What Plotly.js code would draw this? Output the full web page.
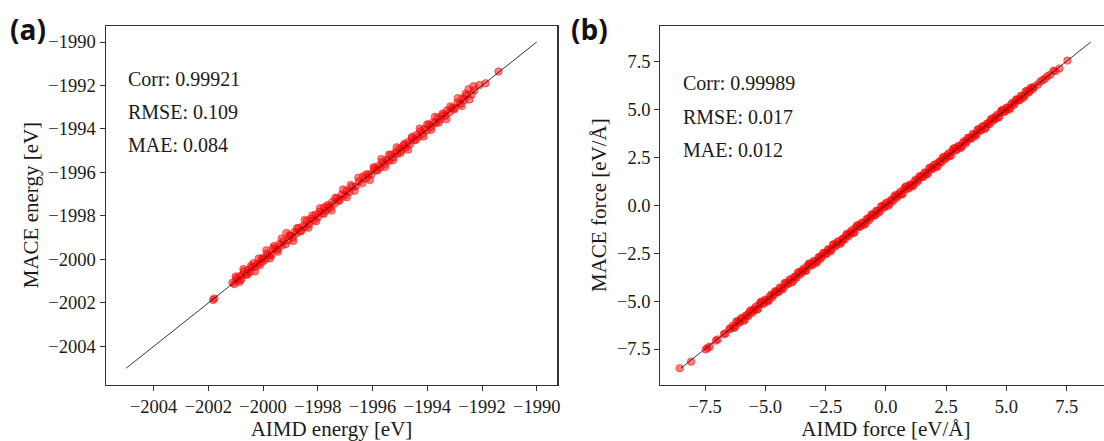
<!DOCTYPE html>
<html>
<head>
<meta charset="utf-8">
<script src="https://cdn.plot.ly/plotly-3.0.1.min.js"></script>
<style>
html,body{margin:0;padding:0;background:#fff;overflow:hidden;width:1104px;height:441px;}
#chart{width:1112px;height:441px;}
</style>
</head>
<body>
<div id="chart"></div>
<script>
// ---- Panel (a): energies [eV] ----
const aimdEnergy = [-2001.83,-2001.78,-2001.12,-2001.05,-2000.98,-2000.93,-2000.86,-2000.80,-2000.74,-2000.70,-2000.62,-2000.55,-2000.48,-2000.41,-2000.35,-2000.28,-2000.20,-2000.12,-2000.05,-1999.98,-1999.92,-1999.85,-1999.78,-1999.70,-1999.63,-1999.55,-1999.47,-1999.40,-1999.32,-1999.25,-1999.15,-1999.08,-1999.00,-1998.92,-1998.85,-1998.77,-1998.70,-1998.62,-1998.55,-1998.47,-1998.40,-1998.32,-1998.25,-1998.16,-1998.08,-1998.00,-1997.92,-1997.84,-1997.77,-1997.70,-1997.62,-1997.55,-1997.47,-1997.38,-1997.30,-1997.22,-1997.12,-1997.02,-1996.95,-1996.85,-1996.75,-1996.62,-1996.50,-1996.35,-1996.25,-1996.15,-1996.05,-1995.95,-1995.88,-1995.80,-1995.72,-1995.64,-1995.56,-1995.48,-1995.40,-1995.33,-1995.25,-1995.17,-1995.10,-1995.02,-1994.95,-1994.87,-1994.80,-1994.72,-1994.64,-1994.56,-1994.48,-1994.40,-1994.32,-1994.25,-1994.18,-1994.10,-1994.02,-1993.94,-1993.86,-1993.78,-1993.70,-1993.62,-1993.54,-1993.45,-1993.36,-1993.28,-1993.20,-1993.10,-1993.00,-1992.90,-1992.80,-1992.72,-1992.65,-1992.57,-1992.49,-1992.38,-1992.28,-1992.10,-1991.87,-1991.40,
-2001.00,-2000.86,-2000.72,-2000.58,-2000.44,-2000.30,-2000.16,-2000.02,-1999.88,-1999.74,-1999.60,-1999.46,-1999.32,-1999.18,-1999.04,-1998.90,-1998.76,-1998.62,-1998.48,-1998.34,-1998.20,-1998.06,-1997.92,-1997.78,-1997.64,-1997.50,-1997.36,-1997.22,-1997.08,-1996.94,-1996.80,-1996.66,-1996.52,-1996.38,-1996.24,-1996.10,-1995.96,-1995.82,-1995.68,-1995.54,-1995.40,-1995.26,-1995.12,-1994.98,-1994.84,-1994.70,-1994.56,-1994.42,-1994.28,-1994.14,-1994.00,-1993.86,-1993.72,-1993.58,-1993.44,-1993.30,-1993.16,-1993.02,-1992.88,-1992.74,-1992.60,-1992.46,-1992.32];
const maceEnergy = [-2001.86,-2001.80,-2001.07,-2001.13,-2000.86,-2000.96,-2000.77,-2000.92,-2000.72,-2000.55,-2000.68,-2000.48,-2000.58,-2000.37,-2000.17,-2000.33,-2000.19,-2000.26,-1999.95,-1999.92,-2000.01,-1999.72,-1999.80,-1999.81,-1999.47,-1999.52,-1999.54,-1999.29,-1999.36,-1999.16,-1998.78,-1999.13,-1998.91,-1999.00,-1998.74,-1998.80,-1998.55,-1998.69,-1998.47,-1998.52,-1998.22,-1998.38,-1998.13,-1998.21,-1997.93,-1998.06,-1997.80,-1997.88,-1997.60,-1997.75,-1997.57,-1997.62,-1997.36,-1997.43,-1997.18,-1997.26,-1997.01,-1997.06,-1996.83,-1996.90,-1996.66,-1996.64,-1996.41,-1996.19,-1996.29,-1996.08,-1996.10,-1995.82,-1995.91,-1995.70,-1995.77,-1995.51,-1995.60,-1995.41,-1995.46,-1995.18,-1995.30,-1995.08,-1995.14,-1994.90,-1994.99,-1994.76,-1994.85,-1994.61,-1994.70,-1994.44,-1994.52,-1994.28,-1994.37,-1994.10,-1994.22,-1993.99,-1994.07,-1993.80,-1993.90,-1993.69,-1993.74,-1993.48,-1993.58,-1993.37,-1993.40,-1993.15,-1993.24,-1993.03,-1993.04,-1992.78,-1992.84,-1992.60,-1992.68,-1992.47,-1992.17,-1992.41,-1992.22,-1991.98,-1991.90,-1991.36,
-2000.78,-2001.04,-2000.44,-2000.70,-2000.29,-2000.55,-1999.96,-2000.10,-1999.58,-1999.94,-1999.38,-1999.64,-1999.04,-1999.30,-1998.89,-1999.15,-1998.56,-1998.70,-1998.18,-1998.54,-1997.98,-1998.24,-1997.64,-1997.90,-1997.49,-1997.75,-1997.16,-1997.30,-1996.78,-1997.14,-1996.58,-1996.84,-1996.24,-1996.50,-1996.09,-1996.35,-1995.76,-1995.90,-1995.38,-1995.74,-1995.18,-1995.44,-1994.84,-1995.10,-1994.69,-1994.95,-1994.36,-1994.50,-1993.98,-1994.34,-1993.78,-1994.04,-1993.44,-1993.70,-1993.29,-1993.55,-1992.96,-1993.10,-1992.58,-1992.94,-1992.38,-1992.64,-1992.04];
const energyDiag = [-2005, -1990];
const energyRange = [-2005.75, -1989.25];
const energyTickStart = -2004;
const energyTickStep = 2;
const energyStats = ["Corr: 0.99921", "RMSE: 0.109", "MAE: 0.084"];

// ---- Panel (b): forces [eV/Å] ----
const aimdForce = [-8.55,-8.08,-7.47,-7.40,-7.30,-7.05,-6.98,-6.72,-6.66,-6.50,-6.45,
-6.35,-6.25,-6.15,-6.05,-5.95,-5.85,-5.75,-5.65,-5.55,-5.45,-5.35,-5.25,-5.15,-5.05,-4.95,-4.85,-4.75,-4.65,-4.55,-4.45,-4.35,-4.25,-4.15,-4.05,-3.95,-3.85,-3.75,-3.65,-3.55,-3.45,-3.35,-3.25,-3.15,-3.05,-2.95,-2.85,-2.75,-2.65,-2.55,-2.45,-2.35,-2.25,-2.15,-2.05,-1.95,-1.85,-1.75,-1.65,-1.55,-1.45,-1.35,-1.25,-1.15,-1.05,-0.95,-0.85,-0.75,-0.65,-0.55,-0.45,-0.35,-0.25,-0.15,-0.05,0.05,0.15,0.25,0.35,0.45,0.55,0.65,0.75,0.85,0.95,1.05,1.15,1.25,1.35,1.45,1.55,1.65,1.75,1.85,1.95,2.05,2.15,2.25,2.35,2.45,2.55,2.65,2.75,2.85,2.95,3.05,3.15,3.25,3.35,3.45,3.55,3.65,3.75,3.85,3.95,4.05,4.15,4.25,4.35,4.45,4.55,4.65,4.75,4.85,4.95,5.05,5.15,5.25,5.35,5.45,5.55,5.65,5.75,5.85,5.95,6.05,6.15,
-6.30,-6.20,-6.10,-6.00,-5.90,-5.80,-5.70,-5.60,-5.50,-5.40,-5.30,-5.20,-5.10,-5.00,-4.90,-4.80,-4.70,-4.60,-4.50,-4.40,-4.30,-4.20,-4.10,-4.00,-3.90,-3.80,-3.70,-3.60,-3.50,-3.40,-3.30,-3.20,-3.10,-3.00,-2.90,-2.80,-2.70,-2.60,-2.50,-2.40,-2.30,-2.20,-2.10,-2.00,-1.90,-1.80,-1.70,-1.60,-1.50,-1.40,-1.30,-1.20,-1.10,-1.00,-0.90,-0.80,-0.70,-0.60,-0.50,-0.40,-0.30,-0.20,-0.10,0.00,0.10,0.20,0.30,0.40,0.50,0.60,0.70,0.80,0.90,1.00,1.10,1.20,1.30,1.40,1.50,1.60,1.70,1.80,1.90,2.00,2.10,2.20,2.30,2.40,2.50,2.60,2.70,2.80,2.90,3.00,3.10,3.20,3.30,3.40,3.50,3.60,3.70,3.80,3.90,4.00,4.10,4.20,4.30,4.40,4.50,4.60,4.70,4.80,4.90,5.00,5.10,5.20,5.30,5.40,5.50,5.60,5.70,5.80,5.90,6.00,6.10,
6.30,6.40,6.50,6.60,6.70,6.82,6.95,7.02,7.20,7.53];
const maceForce = [-8.50,-8.16,-7.52,-7.45,-7.37,-7.06,-7.00,-6.72,-6.70,-6.48,-6.42,
-6.29,-6.34,-6.04,-6.08,-5.87,-5.97,-5.73,-5.55,-5.61,-5.41,-5.45,-5.18,-5.03,-5.10,-4.94,-4.96,-4.66,-4.67,-4.50,-4.53,-4.32,-4.32,-4.05,-4.09,-3.86,-3.96,-3.72,-3.53,-3.60,-3.40,-3.44,-3.17,-3.04,-3.11,-2.93,-2.97,-2.68,-2.68,-2.49,-2.54,-2.31,-2.33,-2.03,-2.07,-1.88,-1.95,-1.74,-1.56,-1.62,-1.40,-1.46,-1.17,-1.05,-1.09,-0.92,-0.97,-0.69,-0.66,-0.48,-0.54,-0.30,-0.31,-0.04,-0.08,0.13,0.04,0.27,0.45,0.40,0.59,0.55,0.82,0.97,0.89,1.06,1.03,1.34,1.32,1.51,1.47,1.69,1.66,1.96,1.93,2.13,2.04,2.28,2.45,2.39,2.60,2.55,2.82,2.97,2.91,3.07,3.04,3.34,3.33,3.51,3.47,3.69,3.66,3.96,3.92,4.12,4.03,4.27,4.45,4.40,4.60,4.55,4.83,4.96,4.89,5.08,5.04,5.33,5.32,5.51,5.47,5.69,5.68,5.95,5.91,6.12,6.17,
-6.40,-6.07,-6.14,-5.91,-6.03,-5.75,-5.78,-5.48,-5.52,-5.30,-5.41,-5.06,-5.15,-4.92,-5.02,-4.74,-4.79,-4.49,-4.53,-4.30,-4.40,-4.07,-4.14,-3.91,-4.03,-3.75,-3.78,-3.48,-3.52,-3.30,-3.41,-3.06,-3.15,-2.92,-3.02,-2.74,-2.79,-2.49,-2.53,-2.30,-2.40,-2.07,-2.14,-1.91,-2.03,-1.75,-1.78,-1.48,-1.52,-1.30,-1.41,-1.06,-1.15,-0.92,-1.02,-0.74,-0.79,-0.49,-0.53,-0.30,-0.40,-0.07,-0.14,0.09,-0.03,0.25,0.22,0.52,0.48,0.70,0.59,0.94,0.85,1.08,0.98,1.26,1.21,1.51,1.47,1.70,1.60,1.93,1.86,2.09,1.97,2.25,2.22,2.52,2.48,2.70,2.59,2.94,2.85,3.08,2.98,3.26,3.21,3.51,3.47,3.70,3.60,3.93,3.86,4.09,3.97,4.25,4.22,4.52,4.48,4.70,4.59,4.94,4.85,5.08,4.98,5.26,5.21,5.51,5.47,5.70,5.60,5.93,5.86,6.09,6.05,
6.28,6.43,6.52,6.58,6.72,6.80,7.00,6.98,7.12,7.53];
const forceDiag = [-8.5, 8.5];
const forceRange = [-9.35, 9.35];
const forceTickStart = 0;
const forceTickStep = 2.5;
const forceStats = ["Corr: 0.99989", "RMSE: 0.017", "MAE: 0.012"];

const W = 1112, H = 441;
const SERIF = "Liberation Serif";
function serifFont(size) { return {family: SERIF, size: size, color: "#1a1a1a"}; }
function markerStyle() { return {size: 7.5, color: "rgba(255,0,0,0.5)", line: {color: "rgba(255,0,0,0.5)", width: 1}}; }

const traces = [
  {type: "scatter", mode: "markers", x: aimdEnergy, y: maceEnergy, xaxis: "x", yaxis: "y", marker: markerStyle(), hoverinfo: "x+y"},
  {type: "scatter", mode: "lines", x: energyDiag, y: energyDiag, xaxis: "x", yaxis: "y", line: {color: "#000", width: 0.8}, hoverinfo: "skip"},
  {type: "scatter", mode: "markers", x: aimdForce, y: maceForce, xaxis: "x2", yaxis: "y2", marker: markerStyle(), hoverinfo: "x+y"},
  {type: "scatter", mode: "lines", x: forceDiag, y: forceDiag, xaxis: "x2", yaxis: "y2", line: {color: "#000", width: 0.8}, hoverinfo: "skip"}
];

function px(x) { return x / W; }
function py(y) { return 1 - y / H; }

function axis(extra) {
  return Object.assign({
    showline: true, mirror: true, linecolor: "#333", linewidth: 1.2,
    ticks: "outside", ticklen: 5, tickwidth: 1, tickcolor: "#333",
    showgrid: false, zeroline: false,
    tickfont: serifFont(18.5),
    automargin: false
  }, extra);
}

const yDom = [py(384.5), py(25.7)];

const layout = {
  width: W, height: H,
  margin: {l: 0, r: 0, t: 0, b: 0},
  font: {family: SERIF, size: 18, color: "#1a1a1a"},
  paper_bgcolor: "#fff", plot_bgcolor: "#fff",
  showlegend: false,
  xaxis: axis({
    domain: [px(105.7), px(557.3)], range: energyRange, anchor: "y",
    tickmode: "linear", tick0: energyTickStart, dtick: energyTickStep,
    title: {text: "AIMD energy [eV]", font: serifFont(21), standoff: 2}
  }),
  yaxis: axis({
    domain: yDom, range: energyRange, anchor: "x",
    tickmode: "linear", tick0: energyTickStart, dtick: energyTickStep,
    title: {text: "MACE energy [eV]", font: serifFont(21), standoff: 4}
  }),
  xaxis2: axis({
    domain: [px(660.4), px(1111.3)], range: forceRange, anchor: "y2",
    tickmode: "linear", tick0: forceTickStart, dtick: forceTickStep, tickformat: ".1f",
    title: {text: "AIMD force [eV/Å]", font: serifFont(21), standoff: 2}
  }),
  yaxis2: axis({
    domain: yDom, range: forceRange, anchor: "x2",
    tickmode: "linear", tick0: forceTickStart, dtick: forceTickStep, tickformat: ".1f",
    title: {text: "MACE force [eV/Å]", font: serifFont(21), standoff: 4}
  }),
  annotations: []
};

const leftStatY = [79.5, 112, 144.5];
const rightStatY = [83.3, 116.5, 149.5];
energyStats.forEach((t, i) => layout.annotations.push({
  xref: "paper", yref: "paper", x: px(126), y: py(leftStatY[i]), xanchor: "left", yanchor: "middle",
  text: t, showarrow: false, font: serifFont(20)
}));
forceStats.forEach((t, i) => layout.annotations.push({
  xref: "paper", yref: "paper", x: px(681), y: py(rightStatY[i]), xanchor: "left", yanchor: "middle",
  text: t, showarrow: false, font: serifFont(20)
}));
layout.annotations.push({xref: "paper", yref: "paper", x: px(28), y: py(29), xanchor: "center", yanchor: "middle",
  text: "<b>(a)</b>", showarrow: false, font: {family: "Open Sans", size: 28, color: "#111"}});
layout.annotations.push({xref: "paper", yref: "paper", x: px(589), y: py(29), xanchor: "center", yanchor: "middle",
  text: "<b>(b)</b>", showarrow: false, font: {family: "Open Sans", size: 28, color: "#111"}});

Plotly.newPlot("chart", traces, layout, {staticPlot: true, displayModeBar: false});
</script>
</body>
</html>
